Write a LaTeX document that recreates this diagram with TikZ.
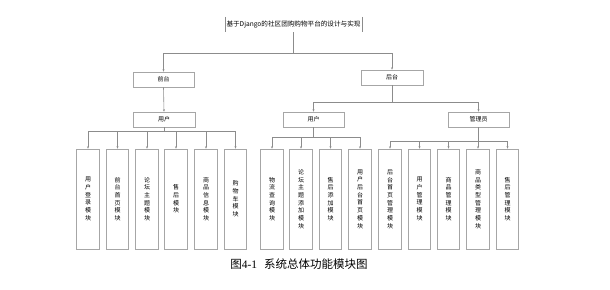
\documentclass[tikz,border=0pt]{standalone}
\usepackage{fontspec}
\newfontfamily\cjk{Noto Sans CJK SC}
\newfontfamily\tnr{Liberation Serif}
\usetikzlibrary{arrows.meta}
\begin{document}
\begin{tikzpicture}[x=1pt,y=-1pt,
  box/.style={draw=black!35, line width=0.6pt, minimum width=61pt, minimum height=15pt, inner sep=0pt, font=\cjk\fontsize{6}{7}\selectfont},
  leaf/.style={draw=black!35, line width=0.6pt, minimum width=22.5pt, minimum height=100pt, inner sep=0pt, align=center, font=\cjk\fontsize{6}{7.7}\selectfont},
  ln/.style={draw=black!45, line width=0.6pt},
  arr/.style={ln, -{Stealth[length=2.4pt,width=2pt]}}]
\useasboundingbox (0,0) rectangle (610,289);
% top node
\node[inner sep=0pt, minimum width=137pt, minimum height=15pt, font=\cjk\fontsize{6.6}{7}\selectfont] (t) at (293.5,24.5) {基于Django的社区团购购物平台的设计与实现};
\draw[draw=black!45, line width=0.6pt] (t.north west) -- (t.south west) (t.north east) -- (t.south east);
% level 2
\node[box] (qt) at (163.5,79.5) {前台};
\node[box, minimum width=62pt] (ht) at (392,77.5) {后台};
% level 3
\node[box, minimum width=62pt] (ul) at (164,119.5) {用户};
\node[box] (ur) at (313.5,119.5) {用户};
\node[box] (gl) at (478.5,119.5) {管理员};
% leaves
\node[leaf] (a1) at (88,199) {用\\户\\登\\录\\模\\块};
\node[leaf] (a2) at (117.5,199) {前\\台\\首\\页\\模\\块};
\node[leaf] (a3) at (147,199) {论\\坛\\主\\题\\模\\块};
\node[leaf] (a4) at (176,199) {售\\后\\模\\块};
\node[leaf] (a5) at (206,199) {商\\品\\信\\息\\模\\块};
\node[leaf] (a6) at (235.5,199) {购\\物\\车\\模\\块};
\node[leaf] (b1) at (272,199) {物\\流\\查\\询\\模\\块};
\node[leaf] (b2) at (301,199) {论\\坛\\主\\题\\添\\加\\模\\块};
\node[leaf] (b3) at (330.5,199) {售\\后\\添\\加\\模\\块};
\node[leaf] (b4) at (360,199) {用\\户\\后\\台\\首\\页\\模\\块};
\node[leaf] (c1) at (390,199) {后\\台\\首\\页\\管\\理\\模\\块};
\node[leaf] (c2) at (419.5,199) {用\\户\\管\\理\\模\\块};
\node[leaf] (c3) at (448.5,199) {商\\品\\管\\理\\模\\块};
\node[leaf] (c4) at (478,199) {商\\品\\类\\型\\管\\理\\模\\块};
\node[leaf] (c5) at (507.5,199) {售\\后\\管\\理\\模\\块};
% junctions
\coordinate (j0) at (293.5,53);
\coordinate (j1) at (392,102);
\coordinate (jl) at (164,131.7);
\coordinate (jr) at (313.5,137);
\coordinate (jg) at (478.5,141.7);
% connectors
\draw[ln] (t.south) -- (j0);
\draw[arr] (j0) -| (qt.north);
\draw[arr] (j0) -| (ht.north);
\draw[arr] (qt.south) -- (ul.north);
\draw[ln] (ht.south) -- (j1);
\draw[arr] (j1) -| (ur.north);
\draw[arr] (j1) -| (gl.north);
\draw[ln] (ul.south) -- (jl);
\foreach \n in {a1,a2,a3,a4,a5,a6} \draw[arr] (jl) -| (\n.north);
\draw[ln] (ur.south) -- (jr);
\foreach \n in {b1,b2,b3,b4} \draw[arr] (jr) -| (\n.north);
\draw[ln] (gl.south) -- (jg);
\foreach \n in {c1,c2,c3,c4,c5} \draw[arr] (jg) -| (\n.north);
% caption
\node[inner sep=0pt, font=\cjk\fontsize{11.5}{12}\selectfont] (cap) at (299,264) {图{\tnr 4-1}\hspace{0.6em}系统总体功能模块图};
\end{tikzpicture}
\end{document}
